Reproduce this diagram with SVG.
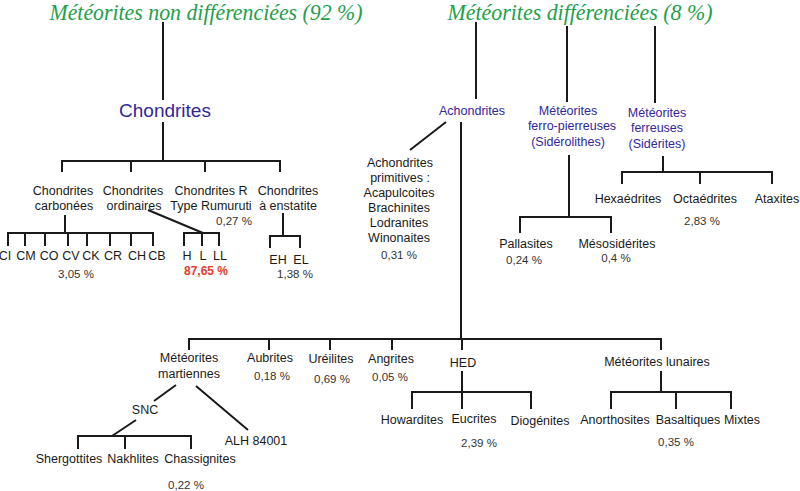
<svg xmlns="http://www.w3.org/2000/svg" width="800" height="491" viewBox="0 0 800 491">
<style>
.bg{fill:#ffffff}
.title{font-family:"Liberation Serif",serif;font-style:italic;font-size:23px;fill:#22a04b;text-anchor:middle}
.blue{font-family:"Liberation Sans",Arial,sans-serif;font-size:12.5px;fill:#33279a;text-anchor:middle}
.big{font-family:"Liberation Sans",Arial,sans-serif;font-size:19px;fill:#33279a;text-anchor:middle}
.lbl{font-family:"Liberation Sans",Arial,sans-serif;font-size:12.5px;fill:#1a1a1a;text-anchor:middle}
.pct{font-family:"Liberation Sans",Arial,sans-serif;font-size:11.5px;fill:#333333;text-anchor:middle}
.red{font-family:"Liberation Sans",Arial,sans-serif;font-size:12px;font-weight:bold;fill:#e0402a;text-anchor:middle}
.ln{fill:none;stroke:#1a1a1a;stroke-width:2;stroke-linecap:butt;stroke-linejoin:miter}
</style>
<rect class="bg" x="0" y="0" width="800" height="491"/>
<g id="connectors" class="ln">
<path d="M163 22V100M163 122V161"/>
<path d="M62 172V161H280V172M131 161V172M205 161V172"/>
<path d="M65 215V233M8 246V233H153V246M25 233V246M45 233V246M68 233V246M87 233V246M110 233V246M131 233V246"/>
<path d="M148 210L203 233M184 246V233H219V246M202 233V246"/>
<path d="M283 213V236M270 248V236H300V248"/>
<path d="M476 22V99M446 122L410 150M461 122V339"/>
<path d="M567 26V102M569 155V217M520 233V217H611V233"/>
<path d="M655 26V103M663 156V172M622 184V172H772V184M700 172V184"/>
<path d="M189 350V339H661V350M269 339V350M330 339V350M392 339V350M462 339V350"/>
<path d="M462 371V409M412 409V392H531V409"/>
<path d="M661 371V392M611 409V392H731V409M676 392V409"/>
<path d="M176 385L154 401M136 420L112 436M78 449V436H191V449M125 436V449M196 386L248 430"/>
</g>
<g id="title-non-diff"><text class="title" x="206" y="20" textLength="313" lengthAdjust="spacingAndGlyphs">Météorites non différenciées (92 %)</text></g>
<g id="title-diff"><text class="title" x="580" y="20" textLength="265" lengthAdjust="spacingAndGlyphs">Météorites différenciées (8 %)</text></g>
<g id="chondrites"><text class="big" x="165" y="117">Chondrites</text></g>
<g id="carbonees"><text class="lbl" x="63" y="195">Chondrites</text><text class="lbl" x="64" y="210">carbonées</text></g>
<g id="ordinaires"><text class="lbl" x="133" y="195">Chondrites</text><text class="lbl" x="134" y="210">ordinaires</text></g>
<g id="rumuruti"><text class="lbl" x="211" y="195">Chondrites R</text><text class="lbl" x="211" y="210">Type Rumuruti</text><text class="pct" x="234" y="225">0,27 %</text></g>
<g id="enstatite"><text class="lbl" x="288" y="195">Chondrites</text><text class="lbl" x="288" y="210">à enstatite</text></g>
<g id="carb-types">
<text class="lbl" x="5" y="260">CI</text><text class="lbl" x="26" y="260">CM</text><text class="lbl" x="49" y="260">CO</text><text class="lbl" x="71" y="260">CV</text><text class="lbl" x="91" y="260">CK</text><text class="lbl" x="113" y="260">CR</text><text class="lbl" x="137" y="260">CH</text><text class="lbl" x="157" y="260">CB</text>
<text class="pct" x="76" y="278">3,05 %</text></g>
<g id="ord-types"><text class="lbl" x="187" y="260">H</text><text class="lbl" x="203" y="260">L</text><text class="lbl" x="220" y="260">LL</text><text class="red" x="206" y="275">87,65 %</text></g>
<g id="ens-types"><text class="lbl" x="278" y="264">EH</text><text class="lbl" x="301" y="264">EL</text><text class="pct" x="295" y="278">1,38 %</text></g>
<g id="achondrites"><text class="blue" x="472" y="115">Achondrites</text></g>
<g id="primitives">
<text class="lbl" x="400" y="167">Achondrites</text><text class="lbl" x="400" y="182">primitives :</text><text class="lbl" x="399" y="197">Acapulcoites</text><text class="lbl" x="399" y="212">Brachinites</text><text class="lbl" x="399" y="227">Lodranites</text><text class="lbl" x="399" y="242">Winonaites</text><text class="pct" x="399" y="259">0,31 %</text></g>
<g id="siderolithes"><text class="blue" x="568" y="115">Météorites</text><text class="blue" x="572" y="130">ferro-pierreuses</text><text class="blue" x="568" y="146">(Sidérolithes)</text></g>
<g id="pallasites"><text class="lbl" x="526" y="248">Pallasites</text><text class="pct" x="524" y="264">0,24 %</text></g>
<g id="mesosiderites"><text class="lbl" x="617" y="248">Mésosidérites</text><text class="pct" x="616" y="262">0,4 %</text></g>
<g id="siderites"><text class="blue" x="657" y="117">Météorites</text><text class="blue" x="657" y="132">ferreuses</text><text class="blue" x="657" y="148">(Sidérites)</text></g>
<g id="hexaedrites"><text class="lbl" x="628" y="203">Hexaédrites</text></g>
<g id="octaedrites"><text class="lbl" x="705" y="203">Octaédrites</text><text class="pct" x="702" y="225">2,83 %</text></g>
<g id="ataxites"><text class="lbl" x="777" y="203">Ataxites</text></g>
<g id="martiennes"><text class="lbl" x="189" y="362">Météorites</text><text class="lbl" x="189" y="378">martiennes</text></g>
<g id="aubrites"><text class="lbl" x="270" y="362">Aubrites</text><text class="pct" x="272" y="380">0,18 %</text></g>
<g id="ureilites"><text class="lbl" x="331" y="363">Uréilites</text><text class="pct" x="332" y="383">0,69 %</text></g>
<g id="angrites"><text class="lbl" x="391" y="363">Angrites</text><text class="pct" x="390" y="381">0,05 %</text></g>
<g id="hed"><text class="lbl" x="463" y="367">HED</text></g>
<g id="howardites"><text class="lbl" x="412" y="424">Howardites</text></g>
<g id="eucrites"><text class="lbl" x="474" y="423">Eucrites</text><text class="pct" x="479" y="447">2,39 %</text></g>
<g id="diogenites"><text class="lbl" x="540" y="425">Diogénites</text></g>
<g id="lunaires"><text class="lbl" x="657" y="366">Météorites lunaires</text></g>
<g id="anorthosites"><text class="lbl" x="615" y="424">Anorthosites</text></g>
<g id="basaltiques"><text class="lbl" x="688" y="424">Basaltiques</text><text class="pct" x="676" y="446">0,35 %</text></g>
<g id="mixtes"><text class="lbl" x="742" y="424">Mixtes</text></g>
<g id="snc"><text class="lbl" x="145" y="414">SNC</text></g>
<g id="alh"><text class="lbl" x="256" y="445">ALH 84001</text></g>
<g id="shergottites"><text class="lbl" x="69" y="463">Shergottites</text></g>
<g id="nakhlites"><text class="lbl" x="133" y="463">Nakhlites</text></g>
<g id="chassignites"><text class="lbl" x="200" y="463">Chassignites</text><text class="pct" x="186" y="489">0,22 %</text></g>
</svg>
